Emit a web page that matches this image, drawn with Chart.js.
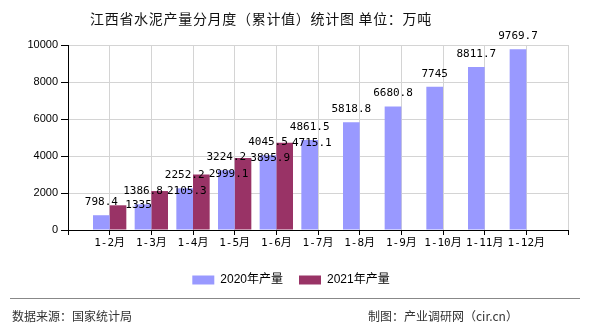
<!DOCTYPE html>
<html>
<head>
<meta charset="utf-8">
<script src="https://cdn.jsdelivr.net/npm/chart.js@4"></script>
<style>
  body { margin: 0; background: #fff; }
  #wrap { position: relative; width: 590px; height: 330px; font-family: "Noto Sans CJK SC", sans-serif; }
  #chart { position: absolute; left: 0; top: 0; }
  .title { position: absolute; left: 90px; top: 8px; font-size: 14px; letter-spacing: 0.7px; color: #111; white-space: nowrap; }
  .rule { position: absolute; left: 10px; width: 570px; top: 298px; height: 1px; background: #888; }
  .src { position: absolute; top: 307px; font-size: 12px; color: #333; white-space: nowrap; line-height: 18px; }
</style>
</head>
<body>
<div id="wrap">
  <canvas id="chart" width="590" height="330"></canvas>
  <div class="title">江西省水泥产量分月度（累计值）统计图 单位：万吨</div>
  <div class="rule"></div>
  <div class="src" style="left:12px">数据来源：国家统计局</div>
  <div class="src" style="left:368px">制图：产业调研网（cir.cn）</div>
</div>
<script>
// months (with empty slots at both ends of the axis)
const months = ["", "1-2月", "1-3月", "1-4月", "1-5月", "1-6月", "1-7月", "1-8月", "1-9月", "1-10月", "1-11月", "1-12月", ""];
const output2020 = [null, 798.4, 1386.8, 2252.2, 3224.2, 4045.5, 4861.5, 5818.8, 6680.8, 7745, 8811.7, 9769.7, null];
const output2021 = [null, 1335, 2105.3, 2999.1, 3895.9, 4715.1, null, null, null, null, null, null, null];
const yTicks = [0, 2000, 4000, 6000, 8000, 10000];

// value labels: 2020 above the bar, 2021 to the right of the bar top
const valueLabels = {
  id: "valueLabels",
  afterDatasetsDraw(chart) {
    const ctx = chart.ctx;
    ctx.save();
    ctx.font = "11px 'DejaVu Sans Mono'";
    ctx.fillStyle = "#000";
    ctx.textBaseline = "middle";
    chart.data.datasets.forEach((ds, i) => {
      chart.getDatasetMeta(i).data.forEach((bar, j) => {
        const v = ds.data[j];
        if (v == null) return;
        if (i === 0) {
          ctx.textAlign = "center";
          ctx.fillText(String(v), bar.x, bar.y - 13);
        } else {
          ctx.textAlign = "left";
          ctx.fillText(String(v), bar.x + bar.width / 2 - 1, bar.y);
        }
      });
    });
    ctx.restore();
  }
};

const ctx = document.getElementById("chart").getContext("2d");
new Chart(ctx, {
  type: "bar",
  data: {
    labels: months,
    datasets: [
      { label: "2020年产量", data: output2020, backgroundColor: "#9999ff", categoryPercentage: 0.8, barPercentage: 1.0 },
      { label: "2021年产量", data: output2021, backgroundColor: "#993366", categoryPercentage: 0.8, barPercentage: 1.0 }
    ]
  },
  options: {
    responsive: false,
    animation: false,
    layout: { padding: { left: 14, right: 22, top: 45, bottom: 34 } },
    plugins: {
      legend: {
        position: "bottom",
        labels: {
          boxWidth: 22,
          boxHeight: 9,
          padding: 16,
          color: "#000",
          font: { size: 12, family: "'Liberation Sans', 'Noto Sans CJK SC'" }
        }
      },
      tooltip: { enabled: false }
    },
    scales: {
      x: {
        offset: false,
        grid: { offset: false, color: "#d4d4d4", tickColor: "#000", tickLength: 5 },
        border: { color: "#000" },
        ticks: {
          autoSkip: false,
          maxRotation: 0,
          padding: 2,
          color: "#000",
          font: { size: 11, family: "'DejaVu Sans Mono', 'Noto Sans CJK SC'" }
        },
        afterFit(s) { s.height = 28; }
      },
      y: {
        min: 0,
        max: 10000,
        afterBuildTicks(s) { s.ticks = yTicks.map(v => ({ value: v })); },
        grid: { color: "#d4d4d4", tickColor: "#000", tickLength: 7 },
        border: { color: "#000" },
        ticks: {
          padding: 3,
          color: "#000",
          font: { size: 11, family: "'Liberation Sans'" },
          callback: v => String(v)
        },
        afterFit(s) { s.width = 54; }
      }
    }
  },
  plugins: [valueLabels]
});
</script>
</body>
</html>
